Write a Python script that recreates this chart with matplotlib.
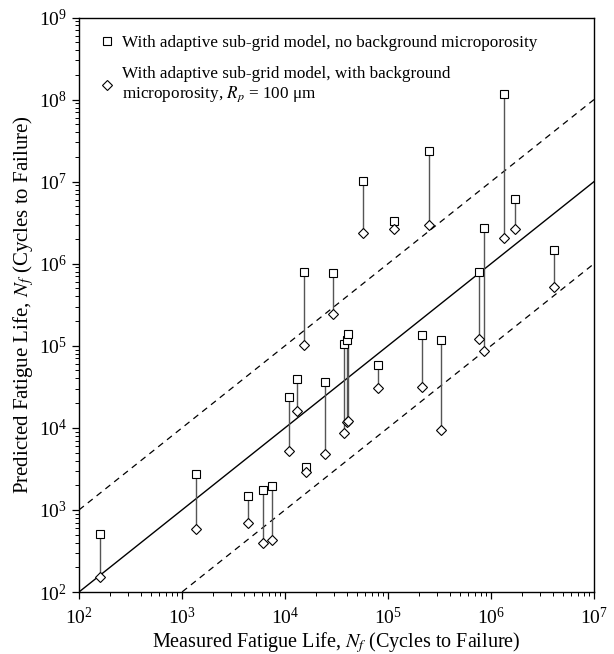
import matplotlib
matplotlib.use("Agg")
import matplotlib.pyplot as plt
from matplotlib.lines import Line2D
from matplotlib.ticker import LogLocator, NullFormatter

plt.rcParams['font.family'] = ['Liberation Serif', 'DejaVu Serif']
plt.rcParams['mathtext.fontset'] = 'stix'

# Measured fatigue life (cycles)
measured = [160, 1374, 4395, 6053, 7447, 10820, 13100, 15990, 15280, 29240,
            24200, 37150, 40270, 41210, 57540, 79620, 113800, 214600, 251200,
            330400, 772700, 855800, 1352000, 1709000, 4070000]
# Predicted, adaptive sub-grid model, no background microporosity
pred_no_micro = [505, 2717, 1466, 1750, 1955, 23990, 39170, 3289, 799700, 771000,
                 36200, 105100, 116700, 140400, 10090000, 57840, 3343000, 135300,
                 23830000, 117000, 792500, 2748000, 118000000, 6090000, 1482000]
# Predicted, adaptive sub-grid model, with background microporosity (Rp = 100 um)
pred_micro = [151, 581, 699, 399, 430, 5250, 15830, 2882, 101400, 243900,
              4763, 8590, 11780, 12220, 2387000, 30840, 2626000, 31470,
              2940000, 9464, 119900, 87100, 2058000, 2626000, 520000]

xlim = (1e2, 1e7)
ylim = (1e2, 1e9)

fig = plt.figure(figsize=(6.14, 6.54), dpi=100)
ax = fig.add_axes([79/614, 62/654, 515/614, 574.5/654])
ax.set_xscale('log')
ax.set_yscale('log')
ax.set_xlim(*xlim)
ax.set_ylim(*ylim)

# reference lines: 1:1 and factor-of-10 bands
ref = [xlim[0], xlim[1]]
ax.plot(ref, ref, color='black', lw=1.0, zorder=2)
ax.plot(ref, [v * 10 for v in ref], color='black', lw=0.9, ls=(0, (5, 4)), zorder=2)
ax.plot(ref, [v / 10 for v in ref], color='black', lw=0.9, ls=(0, (5, 4)), zorder=2)

for xm, a, b in zip(measured, pred_no_micro, pred_micro):
    ax.plot([xm, xm], [a, b], color='#555555', lw=1.0, zorder=3)

ax.plot(measured, pred_no_micro, ls='none', marker='s', ms=5.6, mfc='white',
        mec='black', mew=0.8, zorder=4)
ax.plot(measured, pred_micro, ls='none', marker='D', ms=4.8, mfc='white',
        mec='black', mew=0.8, zorder=4)

ax.xaxis.set_major_locator(LogLocator(base=10, numticks=20))
ax.yaxis.set_major_locator(LogLocator(base=10, numticks=20))
ax.xaxis.set_minor_locator(LogLocator(base=10, subs=range(2, 10), numticks=100))
ax.yaxis.set_minor_locator(LogLocator(base=10, subs=range(2, 10), numticks=100))
ax.xaxis.set_minor_formatter(NullFormatter())
ax.yaxis.set_minor_formatter(NullFormatter())
ax.tick_params(which='major', direction='out', length=5, width=0.9, labelsize=14)
ax.tick_params(axis='x', which='major', pad=5.5)
ax.tick_params(axis='y', which='major', pad=3.5)
ax.tick_params(which='minor', direction='out', length=3, width=0.7)
ax.tick_params(top=False, right=False)
for s in ax.spines.values():
    s.set_linewidth(1.0)

ax.set_xlabel('Measured Fatigue Life, $N_f$ (Cycles to Failure)', fontsize=14.5, labelpad=2)
ax.set_ylabel('Predicted Fatigue Life, $N_f$ (Cycles to Failure)', fontsize=15, labelpad=2)

handles = [
    Line2D([], [], ls='none', marker='s', ms=5.6, mfc='white', mec='black', mew=0.8),
    Line2D([], [], ls='none', marker='D', ms=4.8, mfc='white', mec='black', mew=0.8),
]
labels = [
    'With adaptive sub-grid model, no background microporosity',
    'With adaptive sub-grid model, with background\nmicroporosity, $R_p$ = 100 μm',
]
ax.legend(handles, labels, loc='upper left', bbox_to_anchor=(0.018, 0.99),
          frameon=False, fontsize=12.3, handlelength=0.8, handletextpad=0.45,
          labelspacing=0.85, borderaxespad=0.3)

fig.savefig('out.png', dpi=100)
